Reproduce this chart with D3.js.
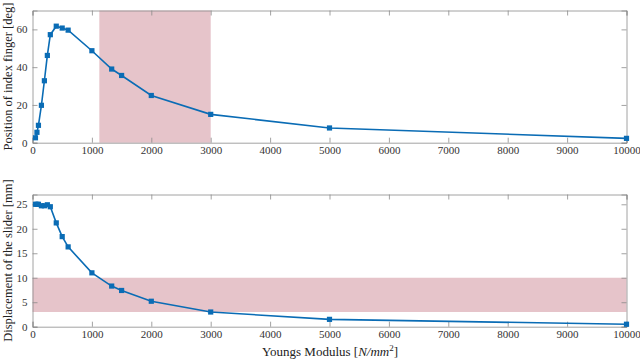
<!DOCTYPE html>
<html><head><meta charset="utf-8">
<script src="https://cdn.jsdelivr.net/npm/d3@7"></script>
<style>body{margin:0;background:#fff}svg{display:block}</style>
</head><body>
<script>
const modulus = [50, 75, 100, 150, 200, 250, 300, 400, 500, 600, 1000, 1333, 1500, 2000, 3000, 5000, 10000];
const fingerDeg = [2.6, 5.5, 9.2, 19.8, 32.8, 46.2, 57.2, 61.7, 60.7, 59.6, 48.7, 39.0, 35.6, 25.0, 15.0, 7.8, 2.3];
const sliderMm = [25.0, 25.0, 25.0, 24.7, 24.7, 24.9, 24.5, 21.2, 18.4, 16.3, 11.0, 8.3, 7.4, 5.2, 3.0, 1.5, 0.5];
const xTicks = [0, 1000, 2000, 3000, 4000, 5000, 6000, 7000, 8000, 9000, 10000];
const topYTicks = [0, 20, 40, 60];
const botYTicks = [0, 5, 10, 15, 20, 25];
const topBand = [1125, 3000];   // x range of shaded region (top)
const botBand = [3, 10];        // y range of shaded region (bottom)

const W = 640, H = 360;
const svg = d3.select("body").append("svg").attr("width", W).attr("height", H);
const font = "'Liberation Serif', 'DejaVu Serif', serif";
const x = d3.scaleLinear().domain([0, 10000]).range([32.5, 626.5]);

function panel(y0, y1, ydom, yTicks, data, label, band, bandDir) {
  const y = d3.scaleLinear().domain(ydom).range([y1, y0]);
  const g = svg.append("g");
  if (bandDir === "x") {
    g.append("rect").attr("x", x(band[0])).attr("width", x(band[1]) - x(band[0]))
      .attr("y", y0).attr("height", y1 - y0).attr("fill", "#e6c4ca");
  } else {
    g.append("rect").attr("x", x(0)).attr("width", x(10000) - x(0))
      .attr("y", y(band[1])).attr("height", y(band[0]) - y(band[1])).attr("fill", "#e6c4ca");
  }
  const axCol = "#8a8a8a";
  const bx = d3.axisBottom(x).tickValues(xTicks).tickSize(-5).tickPadding(4).tickFormat(d3.format("d"));
  const tx = d3.axisTop(x).tickValues(xTicks).tickSize(-5).tickFormat("");
  const ly = d3.axisLeft(y).tickValues(yTicks).tickSize(-5).tickPadding(5).tickFormat(d3.format("d"));
  const ry = d3.axisRight(y).tickValues(yTicks).tickSize(-5).tickFormat("");
  const axes = [
    g.append("g").attr("transform", `translate(0,${y1})`).call(bx),
    g.append("g").attr("transform", `translate(0,${y0})`).call(tx),
    g.append("g").attr("transform", `translate(${x(0)},0)`).call(ly),
    g.append("g").attr("transform", `translate(${x(10000)},0)`).call(ry)
  ];
  axes.forEach(a => {
    a.attr("font-family", null);
    a.selectAll("path,line").attr("stroke", axCol).attr("stroke-width", 0.8);
    a.selectAll("text").attr("fill", "#333").attr("font-family", font).attr("font-size", "11px");
  });
  const line = d3.line().x((d, i) => x(modulus[i])).y(d => y(d));
  g.append("path").datum(data).attr("d", line).attr("fill", "none")
    .attr("stroke", "#0a6cb5").attr("stroke-width", 1.6);
  g.selectAll("rect.m").data(data).enter().append("rect").attr("class", "m")
    .attr("x", (d, i) => x(modulus[i]) - 2.6).attr("y", d => y(d) - 2.6)
    .attr("width", 5.2).attr("height", 5.2).attr("fill", "#0a6cb5");
  svg.append("text").attr("transform", `translate(8,${(y0 + y1) / 2}) rotate(-90)`)
    .attr("text-anchor", "middle").attr("dy", "0.35em")
    .attr("font-family", font).attr("font-size", "12.5px").attr("fill", "#222").text(label);
}

panel(10.5, 142.7, [0, 70], topYTicks, fingerDeg, "Position of index finger [deg]", topBand, "x");
panel(194.5, 326.7, [0, 27], botYTicks, sliderMm, "Displacement of the slider [mm]", botBand, "y");

const xl = svg.append("text").attr("x", 330).attr("y", 356).attr("text-anchor", "middle")
  .attr("font-family", font).attr("font-size", "13px").attr("fill", "#222");
xl.append("tspan").text("Youngs Modulus [");
xl.append("tspan").attr("font-style", "italic").text("N/mm");
xl.append("tspan").attr("dy", "-5").attr("font-size", "9px").text("2");
xl.append("tspan").attr("dy", "5").text("]");
</script>
</body></html>
